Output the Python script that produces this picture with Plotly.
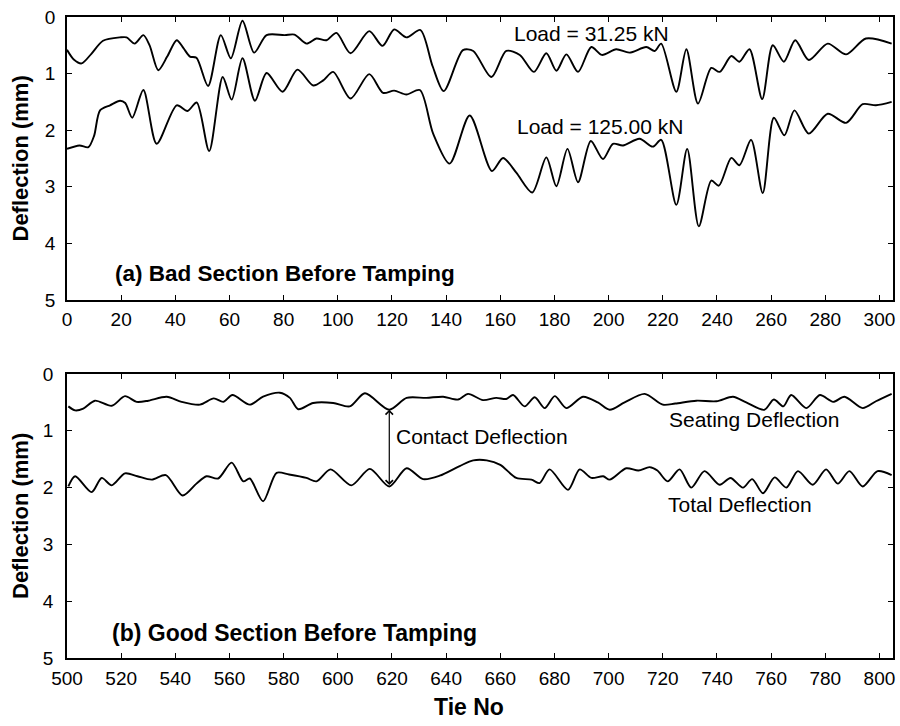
import plotly.graph_objects as go

# ---------------- (a) bad section, before tamping ----------------
tie_low = [0, 2.5, 5.4, 9, 13.3, 19.6, 22, 25, 28.2, 30.5, 33.7, 37, 40.5, 43, 45.4, 47.8,
           52.1, 56.8, 60.5, 64.8, 69.1, 73.7, 80.4, 84, 88.5, 92.1, 95.8, 99.5, 104.7,
           111.6, 116.5, 120.8, 125.3, 130.5, 135, 139.1, 146.2, 150, 156.7, 162.2, 167.2,
           172.4, 177, 180.7, 184.4, 188.7, 193.6, 197.5, 202.8, 207.7, 213.9, 217, 219.4,
           225, 228.7, 233, 237.9, 241, 245.3, 248.3, 252, 256.7, 260.6, 264.7, 268.9,
           273.9, 280.9, 287.7, 295, 304.5]
defl_low = [0.58, 0.75, 0.82, 0.65, 0.42, 0.36, 0.36, 0.47, 0.32, 0.50, 0.94, 0.70, 0.41, 0.55,
            0.70, 0.72, 1.22, 0.32, 0.73, 0.065, 0.63, 0.32, 0.32, 0.31, 0.47, 0.38, 0.41,
            0.28, 0.64, 0.25, 0.51, 0.22, 0.36, 0.23, 0.87, 1.31, 0.585, 0.60, 1.06, 0.60,
            0.67, 0.97, 0.64, 0.95, 0.66, 0.97, 0.53, 0.67, 0.57, 0.63, 0.53, 0.60, 0.47,
            1.32, 0.57, 1.53, 0.90, 0.97, 0.69, 0.79, 0.57, 1.45, 0.50, 0.79, 0.41, 0.76,
            0.47, 0.66, 0.38, 0.47]

tie_high = [0, 4.6, 7.9, 10, 12.2, 15.9, 19.6, 21.5, 24.1, 28.2, 33.1, 40.5, 44.5, 47.9, 52.5,
            57.5, 60.8, 64.8, 69.4, 73.7, 79.6, 85.1, 90.9, 94.6, 98.3, 104.7, 111.6, 116.7,
            120.8, 125.3, 130.3, 135.2, 141.3, 148.7, 156.9, 161, 165.9, 171.8, 177, 180.7,
            184.8, 188.7, 193.4, 197.9, 201.6, 205.3, 211.4, 216.3, 219.4, 225, 229, 233.3,
            237.9, 240.7, 245.3, 248.3, 252.6, 256.9, 261, 264.9, 268.6, 273.9, 280.9, 287.7,
            293.8, 298.7, 304.5]
defl_high = [2.33, 2.27, 2.30, 2.10, 1.65, 1.56, 1.48, 1.52, 1.78, 1.29, 2.24, 1.56, 1.66, 1.51,
             2.37, 1.06, 1.46, 0.73, 1.48, 0.99, 1.32, 0.93, 1.21, 1.12, 0.97, 1.44, 1.01,
             1.34, 1.30, 1.37, 1.29, 2.06, 2.59, 1.74, 2.72, 2.49, 2.75, 3.10, 2.48, 2.99,
             2.33, 2.92, 2.19, 2.51, 2.24, 2.27, 2.15, 2.29, 2.17, 3.32, 2.33, 3.70, 2.89,
             2.98, 2.49, 2.62, 2.17, 3.11, 1.78, 2.09, 1.65, 2.06, 1.71, 1.87, 1.54, 1.56, 1.50]

# ---------------- (b) good section, before tamping ----------------
tie_seat = [500.5, 503, 506, 510.3, 516.5, 521.4, 525.7, 530, 536.8, 542.3, 549.1, 554.2, 557.7,
            561.1, 567.5, 572.4, 578.6, 582.3, 585.4, 590.9, 598.3, 604.4, 610, 619, 625.4,
            632.7, 638.9, 644.4, 648.1, 653.6, 658.5, 662.2, 664.7, 669, 672.7, 676.4, 680.1,
            684.4, 690.5, 696, 700.4, 705.9, 713.3, 720, 724.6, 732.4, 739.8, 745.9, 750.8,
            757.5, 761, 764.5, 767.4, 773, 778, 782.9, 787.1, 793.8, 798.7, 804.5]
defl_seat = [0.57, 0.64, 0.61, 0.47, 0.56, 0.39, 0.49, 0.47, 0.40, 0.49, 0.54, 0.43, 0.49, 0.37,
             0.54, 0.40, 0.33, 0.42, 0.62, 0.51, 0.51, 0.57, 0.34, 0.63, 0.42, 0.42, 0.40,
             0.45, 0.35, 0.46, 0.42, 0.44, 0.37, 0.57, 0.41, 0.60, 0.39, 0.60, 0.40, 0.50,
             0.63, 0.50, 0.35, 0.54, 0.52, 0.47, 0.48, 0.40, 0.50, 0.63, 0.45, 0.57, 0.37,
             0.60, 0.37, 0.49, 0.40, 0.60, 0.48, 0.35]

tie_total = [500.5, 503, 509.1, 512.8, 516.5, 521.4, 526, 531.3, 536.5, 542.7, 547.8, 551.5,
             555.8, 560.8, 565.1, 567.5, 572.4, 577.4, 582, 588.4, 592.1, 597.3, 605, 611.8,
             619, 625.4, 631.5, 637.6, 645, 650, 655, 660, 665.9, 671.5, 674.5, 678.2, 685,
             689.3, 693.6, 698, 700.4, 706.5, 711, 715.1, 718, 721.8, 726.2, 730.5, 735.4, 741,
             745, 749.6, 753, 757, 761.3, 765.6, 769.9, 775.4, 780.3, 784.6, 788.9, 793.8,
             799.3, 804.5]
defl_total = [1.98, 1.80, 2.08, 1.83, 1.96, 1.75, 1.80, 1.86, 1.78, 2.14, 1.93, 1.80, 1.84, 1.56,
              1.89, 1.84, 2.24, 1.74, 1.77, 1.83, 1.89, 1.68, 1.96, 1.67, 1.98, 1.66, 1.85,
              1.79, 1.62, 1.52, 1.52, 1.60, 1.83, 1.86, 1.92, 1.68, 2.04, 1.68, 1.83, 1.80,
              1.86, 1.66, 1.70, 1.64, 1.70, 1.89, 1.68, 2.00, 1.71, 1.95, 1.83, 2.00, 1.85,
              2.10, 1.82, 2.00, 1.71, 1.95, 1.68, 1.93, 1.71, 1.98, 1.71, 1.78]

contact_tie = 619  # tie where contact deflection is marked

y_ticks = [0, 1, 2, 3, 4, 5]

FONT = "Arial, Liberation Sans, sans-serif"
W, H = 900, 726

line = dict(color="black", width=1.9, shape="spline", smoothing=0.8)

fig = go.Figure()
fig.add_trace(go.Scatter(x=tie_low, y=defl_low, mode="lines", line=line,
                         xaxis="x", yaxis="y", showlegend=False))
fig.add_trace(go.Scatter(x=tie_high, y=defl_high, mode="lines", line=line,
                         xaxis="x", yaxis="y", showlegend=False))
fig.add_trace(go.Scatter(x=tie_seat, y=defl_seat, mode="lines", line=line,
                         xaxis="x2", yaxis="y2", showlegend=False))
fig.add_trace(go.Scatter(x=tie_total, y=defl_total, mode="lines", line=line,
                         xaxis="x2", yaxis="y2", showlegend=False))

axis_common = dict(showline=True, linecolor="black", linewidth=1.5, mirror="ticks",
                   ticks="inside", ticklen=5, tickwidth=1, tickcolor="black",
                   showgrid=False, zeroline=False, automargin=False)

# plot areas in pixels: left 67, right 893; top panel 17-300, bottom panel 374-658
xd = [67 / W, 893 / W]
top_dom = [(H - 300) / H, (H - 17) / H]
bot_dom = [(H - 658) / H, (H - 374) / H]

fig.update_layout(
    template="none",
    width=W, height=H, autosize=False,
    margin=dict(l=0, r=0, t=0, b=0, pad=0),
    paper_bgcolor="white", plot_bgcolor="white",
    font=dict(family=FONT, color="black"),
    xaxis=dict(domain=xd, range=[0, 305], tick0=0, dtick=20, anchor="y",
               tickfont=dict(size=19, family=FONT), ticklabelstandoff=1, **axis_common),
    yaxis=dict(domain=top_dom, range=[5, 0], tickvals=y_ticks, anchor="x",
               tickfont=dict(size=19, family=FONT), ticklabelstandoff=6, **axis_common),
    xaxis2=dict(domain=xd, range=[500, 805], tick0=500, dtick=20, anchor="y2",
                tickfont=dict(size=19, family=FONT), ticklabelstandoff=2, **axis_common),
    yaxis2=dict(domain=bot_dom, range=[5, 0], tickvals=y_ticks, anchor="x2",
                tickfont=dict(size=19, family=FONT), ticklabelstandoff=8, **axis_common),
)

ann = []
def label(text, x, y, xref, yref, size=21, bold=False, xanchor="left"):
    ann.append(dict(text=f"<b>{text}</b>" if bold else text, x=x, y=y, xref=xref, yref=yref,
                    xanchor=xanchor, yanchor="middle", showarrow=False,
                    font=dict(size=size, family=FONT, color="black")))

label("Load = 31.25 kN", 164.2, 0.30, "x", "y")
label("Load = 125.00 kN", 165.3, 1.93, "x", "y")
label("(a) Bad Section Before Tamping", 17, 4.54, "x", "y", size=22.5, bold=True)

label("Contact Deflection", 620.6, 1.10, "x2", "y2")
label("Seating Deflection", 721.6, 0.80, "x2", "y2")
label("Total Deflection", 721.2, 2.29, "x2", "y2")
label("(b) Good Section Before Tamping", 515.8, 4.56, "x2", "y2", size=23, bold=True)

# y-axis titles
for yc in [(H - 158.5) / H, (H - 516) / H]:
    ann.append(dict(text="<b>Deflection (mm)</b>", x=20 / W, y=yc, xref="paper", yref="paper",
                    xanchor="center", yanchor="middle", textangle=-90, showarrow=False,
                    font=dict(size=22, family=FONT, color="black")))
# x-axis title
ann.append(dict(text="<b>Tie No</b>", x=469 / W, y=(H - 707) / H, xref="paper", yref="paper",
                xanchor="center", yanchor="middle", showarrow=False,
                font=dict(size=23, family=FONT, color="black")))

# double-headed arrow spanning the contact deflection
i_s = tie_seat.index(contact_tie)
i_t = tie_total.index(contact_tie)
ann.append(dict(x=contact_tie, y=defl_seat[i_s], ax=contact_tie, ay=defl_total[i_t],
                xref="x2", yref="y2", axref="x2", ayref="y2", text="", showarrow=True,
                arrowhead=4, startarrowhead=4, arrowside="end+start", arrowsize=1.2,
                arrowwidth=1.2, arrowcolor="black", standoff=0, startstandoff=0))

fig.update_layout(annotations=ann)
fig.write_html("out.html")
